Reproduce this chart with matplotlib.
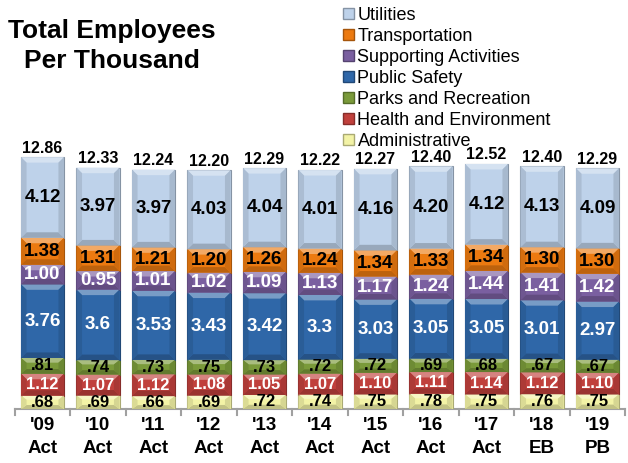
import matplotlib
matplotlib.use("Agg")
import matplotlib.pyplot as plt
from matplotlib.patches import Patch, Polygon
from matplotlib.colors import to_rgb

plt.rcParams["font.family"] = ["Liberation Sans", "DejaVu Sans"]

# fiscal years and budget stage
years = ["'09", "'10", "'11", "'12", "'13", "'14", "'15", "'16", "'17", "'18", "'19"]
stages = ["Act", "Act", "Act", "Act", "Act", "Act", "Act", "Act", "Act", "EB", "PB"]

# employees per thousand residents, by service area (bottom to top)
administrative = [0.68, 0.69, 0.66, 0.69, 0.72, 0.74, 0.75, 0.78, 0.75, 0.76, 0.75]
health_env = [1.12, 1.07, 1.12, 1.08, 1.05, 1.07, 1.10, 1.11, 1.14, 1.12, 1.10]
parks_rec = [0.81, 0.74, 0.73, 0.75, 0.73, 0.72, 0.72, 0.69, 0.68, 0.67, 0.67]
public_safety = [3.76, 3.6, 3.53, 3.43, 3.42, 3.3, 3.03, 3.05, 3.05, 3.01, 2.97]
supporting = [1.00, 0.95, 1.01, 1.02, 1.09, 1.13, 1.17, 1.24, 1.44, 1.41, 1.42]
transportation = [1.38, 1.31, 1.21, 1.20, 1.26, 1.24, 1.34, 1.33, 1.34, 1.30, 1.30]
utilities = [4.12, 3.97, 3.97, 4.03, 4.04, 4.01, 4.16, 4.20, 4.12, 4.13, 4.09]
totals = [12.86, 12.33, 12.24, 12.20, 12.29, 12.22, 12.27, 12.40, 12.52, 12.40, 12.29]


def two_dec(v):
    return f"{v:.2f}"


def no_lead(v):
    return f"{v:.2f}".lstrip("0")


def short(v):
    return f"{v:g}"


def shade(c, f):
    # f > 0 mixes toward white, f < 0 toward black
    r, g, b = to_rgb(c)
    if f >= 0:
        return (r + (1 - r) * f, g + (1 - g) * f, b + (1 - b) * f)
    return (r * (1 + f), g * (1 + f), b * (1 + f))


# (name, values, fill, text colour, label format, font size)
series = [
    ("Administrative", administrative, "#f3f3a6", "black", no_lead, 12),
    ("Health and Environment", health_env, "#c0403c", "white", two_dec, 12),
    ("Parks and Recreation", parks_rec, "#7a9a3a", "black", no_lead, 12),
    ("Public Safety", public_safety, "#2f67a8", "white", short, 13.5),
    ("Supporting Activities", supporting, "#7a5fa0", "white", two_dec, 13.5),
    ("Transportation", transportation, "#ec7a10", "black", two_dec, 13.5),
    ("Utilities", utilities, "#bed2ea", "black", two_dec, 13.5),
]

fig = plt.figure(figsize=(6.28, 4.63), dpi=100)
ax = fig.add_axes([0, 54 / 463, 1, 409 / 463])

x = list(range(len(years)))
width = 0.775
bx = 0.1   # bevel width in x units
by = 0.28  # bevel height in y units
bottom = [0.0] * len(years)
for name, vals, fill, tcol, fmt, fs in series:
    ax.bar(x, vals, width, bottom=bottom, color=fill,
           edgecolor=shade(fill, -0.3), linewidth=0.8, zorder=2)
    for i, v in enumerate(vals):
        x0, x1 = i - width / 2, i + width / 2
        y0, y1 = bottom[i], bottom[i] + v
        d = min(by, v * 0.3)
        # raised-tile look: light top, dark bottom, shaded sides
        faces = [
            ([(x0, y1), (x1, y1), (x1 - bx, y1 - d), (x0 + bx, y1 - d)], 0.35),
            ([(x0, y0), (x1, y0), (x1 - bx, y0 + d), (x0 + bx, y0 + d)], -0.2),
            ([(x0, y0), (x0, y1), (x0 + bx, y1 - d), (x0 + bx, y0 + d)], -0.1),
            ([(x1, y0), (x1, y1), (x1 - bx, y1 - d), (x1 - bx, y0 + d)], -0.12),
        ]
        for pts, f in faces:
            ax.add_patch(Polygon(pts, closed=True, facecolor=shade(fill, f),
                                 edgecolor="none", zorder=2.5))
        ax.text(i, y0 + v / 2, fmt(v), ha="center", va="center",
                fontsize=fs, fontweight="bold", color=tcol, zorder=3)
    bottom = [b + v for b, v in zip(bottom, vals)]

# totals above each stack
for i, t in enumerate(totals):
    ax.text(i, bottom[i] + 0.08, f"{t:.2f}", ha="center", va="bottom",
            fontsize=11.5, fontweight="bold", color="black")

# baseline with category separators
ax.plot([-0.5, 10.5], [0, 0], color="#a0a0a0", lw=1.5, zorder=1,
        clip_on=False)
for b in range(len(years) + 1):
    ax.plot([b - 0.5, b - 0.5], [0, -0.3], color="#a0a0a0", lw=1.5,
            clip_on=False)

for i, (yr, st) in enumerate(zip(years, stages)):
    ax.text(i, -0.4, f"{yr}\n{st}", ha="center", va="top", fontsize=13.5,
            fontweight="bold", linespacing=1.5)

ax.set_xlim(-42.5 / 55.5, (628 - 42.5) / 55.5)
ax.set_ylim(0, 20.9)
ax.axis("off")

fig.text(112 / 628, 1 - 46 / 463, "Total Employees\nPer Thousand",
         ha="center", va="center", fontsize=19, fontweight="bold",
         linespacing=1.3)

handles = [Patch(facecolor=s[2], edgecolor=shade(s[2], -0.3), label=s[0])
           for s in reversed(series)]
fig.legend(handles=handles, loc="upper left",
           bbox_to_anchor=(334 / 628, 1 + 2 / 463), frameon=False,
           fontsize=13, handlelength=0.6, handleheight=0.6,
           handletextpad=0.2, labelspacing=0.22, borderpad=0)

fig.savefig("out.png", dpi=100)
